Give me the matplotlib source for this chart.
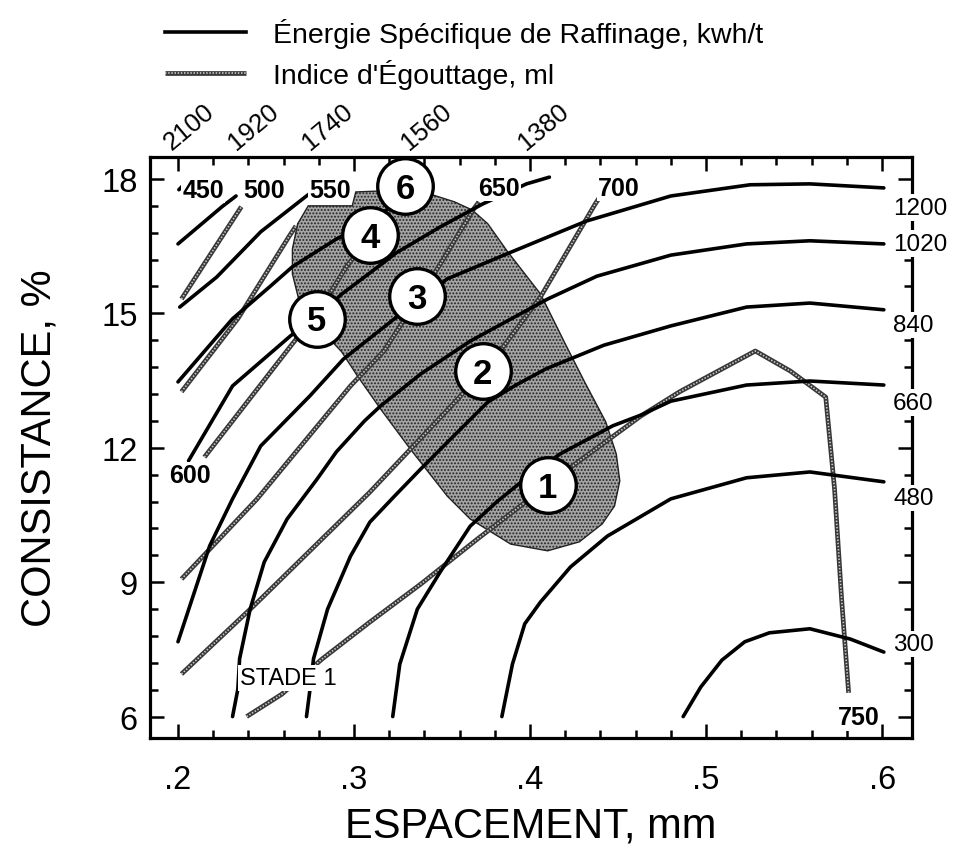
import matplotlib
matplotlib.use("Agg")
import matplotlib.pyplot as plt
from matplotlib.lines import Line2D
from matplotlib.legend_handler import HandlerTuple
from matplotlib.ticker import MultipleLocator, FuncFormatter
from matplotlib.patches import Polygon

plt.rcParams['font.family'] = ['Liberation Sans', 'DejaVu Sans']
plt.rcParams['hatch.color'] = '#4a4a4a'
plt.rcParams['hatch.linewidth'] = 0.9

# ---------------- data ----------------
# Specific refining energy contours, kwh/t  (x = spacing mm, y = consistency %)
E300_X = [0.487, 0.497, 0.509, 0.522, 0.536, 0.559, 0.582, 0.601]
E300_Y = [6.00, 6.66, 7.26, 7.67, 7.87, 7.96, 7.73, 7.44]

E480_X = [0.384, 0.390, 0.397, 0.406, 0.423, 0.444, 0.480, 0.523, 0.559, 0.601]
E480_Y = [6.00, 7.17, 8.07, 8.56, 9.34, 10.03, 10.86, 11.33, 11.46, 11.24]

E660_X = [0.322, 0.326, 0.336, 0.349, 0.366, 0.381, 0.397, 0.417, 0.447, 0.463, 0.480, 0.523, 0.559, 0.601]
E660_Y = [6.00, 7.17, 8.40, 9.23, 10.25, 10.79, 11.30, 11.86, 12.49, 12.73, 13.04, 13.40, 13.49, 13.40]

E840_X = [0.273, 0.275, 0.277, 0.285, 0.298, 0.309, 0.323, 0.338, 0.355, 0.376, 0.392, 0.409, 0.442, 0.480, 0.523, 0.559, 0.601]
E840_Y = [6.00, 6.61, 7.29, 8.40, 9.58, 10.34, 10.92, 11.53, 12.20, 13.02, 13.40, 13.76, 14.29, 14.72, 15.14, 15.23, 15.08]

E1020_X = [0.231, 0.234, 0.235, 0.241, 0.249, 0.262, 0.279, 0.290, 0.306, 0.315, 0.338, 0.366, 0.410, 0.438, 0.480, 0.523, 0.559, 0.601]
E1020_Y = [6.00, 6.61, 7.29, 8.40, 9.45, 10.41, 11.30, 11.91, 12.60, 12.93, 13.65, 14.38, 15.32, 15.83, 16.30, 16.55, 16.62, 16.55]

E1200_X = [0.200, 0.218, 0.231, 0.247, 0.275, 0.294, 0.323, 0.353, 0.387, 0.432, 0.480, 0.525, 0.559, 0.601]
E1200_Y = [7.67, 9.81, 10.86, 12.04, 13.16, 13.98, 14.88, 15.77, 16.33, 17.06, 17.62, 17.87, 17.89, 17.80]

E1380_X = [0.206, 0.231, 0.264, 0.280, 0.293, 0.312, 0.324, 0.349, 0.373, 0.398, 0.411]
E1380_Y = [11.71, 13.38, 14.50, 14.96, 15.43, 15.99, 16.35, 16.93, 17.44, 17.89, 18.04]

E1560_X = [0.200, 0.231, 0.252, 0.265, 0.290, 0.310, 0.323, 0.331, 0.334]
E1560_Y = [13.47, 14.88, 15.59, 16.04, 16.66, 17.06, 17.44, 18.00, 18.49]

E1740_X = [0.201, 0.222, 0.247, 0.273, 0.280]
E1740_Y = [15.14, 15.81, 16.82, 17.62, 17.82]

E1920_X = [0.200, 0.225, 0.233]
E1920_Y = [16.55, 17.38, 17.62]

E2100_X = [0.2005, 0.2025]
E2100_Y = [17.76, 17.84]

# Freeness (Indice d'Egouttage) lines, ml
F500_X = [0.202, 0.236]
F500_Y = [15.32, 17.38]
F550_X = [0.202, 0.234, 0.263, 0.267]
F550_Y = [13.25, 14.88, 16.71, 16.95]
F600_X = [0.215, 0.265, 0.280, 0.296, 0.312, 0.322]
F600_Y = [11.79, 14.32, 15.05, 16.06, 16.84, 17.44]
F650_X = [0.202, 0.245, 0.298, 0.317, 0.349, 0.368, 0.371]
F650_Y = [9.07, 10.86, 13.38, 14.16, 16.10, 17.33, 17.49]
F700_X = [0.202, 0.243, 0.309, 0.359, 0.383, 0.406, 0.437, 0.440]
F700_Y = [6.95, 8.47, 11.01, 13.09, 14.16, 15.37, 17.44, 17.62]
F750_X = [0.239, 0.259, 0.282, 0.309, 0.338, 0.370, 0.424, 0.463, 0.485, 0.528, 0.548, 0.568, 0.573, 0.577, 0.581]
F750_Y = [6.00, 6.50, 7.29, 8.11, 8.96, 9.96, 11.59, 12.71, 13.25, 14.16, 13.71, 13.13, 11.08, 8.63, 6.53]

# Shaded operating region
REGION_X = [0.274, 0.299, 0.301, 0.314, 0.329, 0.345, 0.357, 0.367, 0.376, 0.387, 0.406, 0.420,
            0.431, 0.443, 0.449, 0.451, 0.448, 0.441, 0.428, 0.410, 0.389, 0.366, 0.353, 0.332,
            0.315, 0.302, 0.293, 0.281, 0.269, 0.265, 0.265, 0.268]
REGION_Y = [17.40, 17.40, 17.71, 17.73, 17.80, 17.64, 17.49, 17.31, 17.00, 16.39, 15.43, 14.32,
            13.47, 12.58, 11.86, 11.26, 10.70, 10.30, 9.90, 9.70, 9.85, 10.41, 10.92, 11.97,
            12.87, 13.60, 14.14, 14.65, 15.25, 15.88, 16.44, 17.00]

# Numbered stages
STAGE_X = [0.410, 0.373, 0.336, 0.309, 0.279, 0.329]
STAGE_Y = [11.17, 13.71, 15.39, 16.75, 14.88, 17.84]
STAGE_LABELS = ['1', '2', '3', '4', '5', '6']

# Contour label values
RIGHT_LEVELS = [1200, 1020, 840, 660, 480, 300]
TOP_LEVELS = [2100, 1920, 1740, 1560, 1380]
FREENESS_TOP = [450, 500, 550, 650, 700]

X_TICKS = [0.2, 0.3, 0.4, 0.5, 0.6]
Y_TICKS = [6, 9, 12, 15, 18]

ENERGY = [(E300_X, E300_Y), (E480_X, E480_Y), (E660_X, E660_Y), (E840_X, E840_Y),
          (E1020_X, E1020_Y), (E1200_X, E1200_Y), (E1380_X, E1380_Y), (E1560_X, E1560_Y),
          (E1740_X, E1740_Y), (E1920_X, E1920_Y), (E2100_X, E2100_Y)]
FREENESS = [(F500_X, F500_Y), (F550_X, F550_Y), (F600_X, F600_Y), (F650_X, F650_Y),
            (F700_X, F700_Y), (F750_X, F750_Y)]

# ---------------- figure ----------------
W, H = 956, 854
fig = plt.figure(figsize=(W / 100, H / 100), dpi=100)
ax = fig.add_axes([150 / W, 1 - 739 / H, 762 / W, 581 / H])
ax.set_xlim(0.1841, 0.617)
ax.set_ylim(5.522, 18.49)

FREE_DARK = '#383838'
FREE_LIGHT = '#c8c8c8'
FREE_LW = 3.4


def free_line(x, y):
    ax.plot(x, y, color=FREE_DARK, lw=FREE_LW, solid_capstyle='butt', zorder=2)
    ax.plot(x, y, color=FREE_LIGHT, lw=1.2, dashes=(0.9, 1.0), zorder=2.1)


region = Polygon(list(zip(REGION_X, REGION_Y)), closed=True, facecolor='#a4a4a4',
                 edgecolor='#222222', lw=1.0, hatch='.....', zorder=1)
ax.add_patch(region)

for xs, ys in ENERGY:
    ax.plot(xs, ys, color='black', lw=2.6, solid_capstyle='round', zorder=2.5)
for xs, ys in FREENESS:
    free_line(xs, ys)

# stage circles
ax.plot(STAGE_X, STAGE_Y, 'o', ms=40, mfc='white', mec='black', mew=2.4, zorder=5, ls='none')
for sx, sy, lab in zip(STAGE_X, STAGE_Y, STAGE_LABELS):
    ax.text(sx, sy - 0.05, lab, ha='center', va='center', fontsize=25, fontweight='bold', zorder=6)

wbox = dict(boxstyle='square,pad=0.06', fc='white', ec='none')

# freeness labels (bold)
free_pos = [(0.2142, 17.76), (0.2489, 17.76), (0.2864, 17.76), (0.3824, 17.80), (0.4506, 17.80)]
for val, (lx, ly) in zip(FREENESS_TOP, free_pos):
    ax.text(lx, ly, str(val), ha='center', va='center', fontsize=18, fontweight='bold',
            bbox=wbox, zorder=7)
ax.text(0.2068, 11.39, '600', ha='center', va='center', fontsize=18, fontweight='bold',
        bbox=wbox, zorder=7)
ax.text(0.5869, 5.99, '750', ha='center', va='center', fontsize=18, fontweight='bold',
        bbox=wbox, zorder=7)

# energy labels on the right
right_y = [17.36, 16.55, 14.74, 13.01, 10.88, 7.62]
for val, ry in zip(RIGHT_LEVELS, right_y):
    ax.text(0.6063, ry, str(val), ha='left', va='center', fontsize=17.5, clip_on=False,
            bbox=dict(boxstyle='square,pad=0.1', fc='white', ec='none'), zorder=10)

# energy labels on top (rotated)
top_x = [0.1965, 0.2330, 0.2750, 0.3310, 0.3975]
for val, tx in zip(TOP_LEVELS, top_x):
    ax.text(tx, 18.64, str(val), ha='left', va='baseline', rotation=40, rotation_mode='anchor',
            fontsize=18.5, clip_on=False, zorder=10)

ax.text(0.2355, 6.86, 'STADE 1', ha='left', va='center', fontsize=17,
        bbox=dict(boxstyle='square,pad=0.1', fc='white', ec='none'), zorder=7)

# axes styling
for s in ax.spines.values():
    s.set_linewidth(2.3)
ax.set_xticks(X_TICKS)
ax.set_yticks(Y_TICKS)
ax.xaxis.set_minor_locator(MultipleLocator(0.02))
ax.yaxis.set_minor_locator(MultipleLocator(0.6))
ax.xaxis.set_major_formatter(FuncFormatter(lambda v, p: ('%.1f' % v).lstrip('0')))
ax.yaxis.set_major_formatter(FuncFormatter(lambda v, p: '%d' % round(v)))
ax.tick_params(which='both', direction='in', top=True, right=True, width=1.8)
ax.tick_params(which='major', length=10, labelsize=23.5)
ax.tick_params(which='minor', length=5.5)
ax.tick_params(axis='x', which='major', pad=19)
ax.tick_params(axis='y', which='major', pad=9)

ax.set_xlabel('ESPACEMENT, mm', fontsize=30, labelpad=7)
ax.set_ylabel('CONSISTANCE, %', fontsize=30, labelpad=30)

# legend
h_energy = Line2D([], [], color='black', lw=2.6)
h_free = (Line2D([], [], color=FREE_DARK, lw=FREE_LW, solid_capstyle='butt'),
          Line2D([], [], color=FREE_LIGHT, lw=1.2, dashes=(0.9, 1.0)))
fig.legend([h_energy, h_free],
           ["Énergie Spécifique de Raffinage, kwh/t", "Indice d'Égouttage, ml"],
           handler_map={tuple: HandlerTuple(ndivide=1, pad=0)},
           loc='upper left', bbox_to_anchor=(165 / W, 1 - 19 / H), frameon=False,
           fontsize=20.5, handlelength=2.85, handletextpad=0.95, labelspacing=0.37,
           borderpad=0, borderaxespad=0)

fig.savefig('out.png', dpi=100)
